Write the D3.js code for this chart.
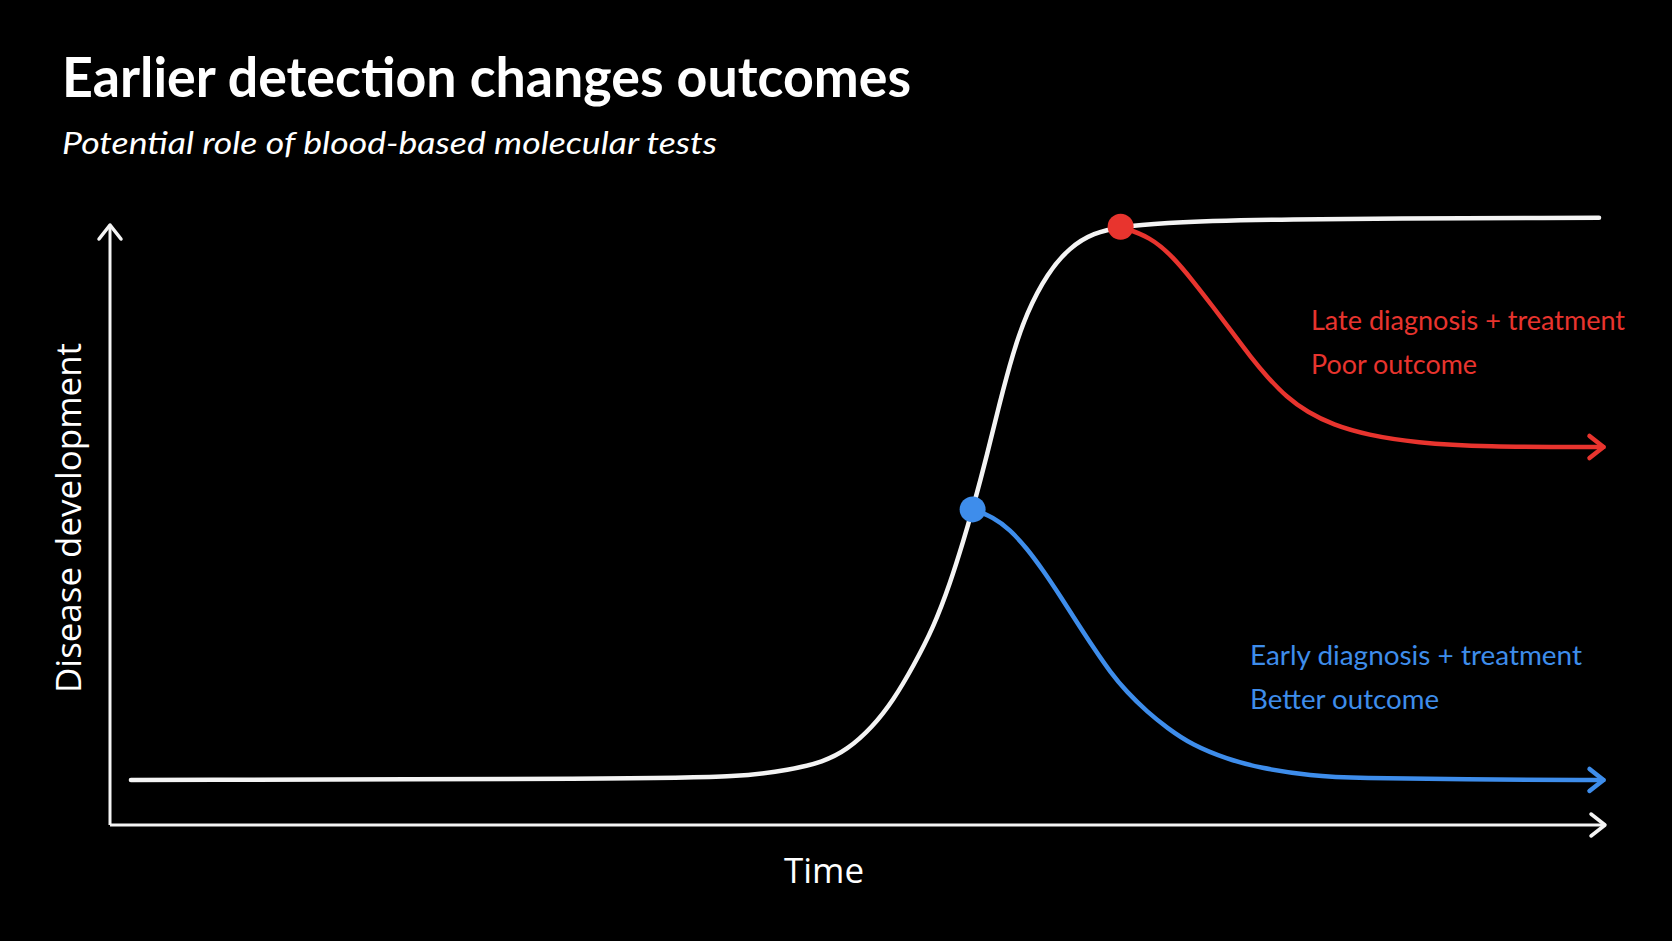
<!DOCTYPE html>
<html>
<head>
<meta charset="utf-8">
<script src="https://cdn.jsdelivr.net/npm/d3@7"></script>
<style>
  html, body { margin: 0; padding: 0; background: #000; }
  svg { display: block; }
</style>
</head>
<body>
<div id="chart"></div>
<script>
// time (0-100) vs disease level (0-100)
var untreatedCurve = [
  [1.4, 7.5], [35.5, 7.7], [42.1, 8.0], [45.5, 9.2], [47.7, 10.5], [49.3, 12.5],
  [51.0, 16.3], [52.4, 20.8], [53.7, 26.3], [55.1, 33.0], [56.2, 40.3], [57.1, 47.5],
  [57.7, 52.6], [58.7, 62.0], [59.5, 70.3], [60.4, 78.7], [61.3, 85.3], [62.7, 92.0],
  [64.2, 96.3], [65.8, 98.7], [67.6, 99.7], [70.2, 100.3], [76.3, 101.0], [99.6, 101.2]
];
var earlyCurve = [
  [57.7, 52.6], [59.1, 51.3], [60.2, 49.2], [61.3, 46.2], [62.4, 42.5], [63.6, 38.0],
  [64.7, 33.7], [65.8, 29.5], [66.9, 25.5], [68.0, 22.2], [69.4, 18.8], [70.7, 16.2],
  [72.4, 13.3], [74.7, 11.0], [76.9, 9.5], [80.3, 8.2], [83.6, 7.8], [90.3, 7.6], [99.9, 7.5]
];
var lateCurve = [
  [67.6, 99.7], [69.6, 98.0], [71.1, 94.7], [72.4, 90.8], [73.8, 86.3], [75.1, 82.0],
  [76.3, 78.0], [77.4, 74.7], [78.7, 71.3], [80.1, 68.8], [81.8, 66.7], [84.1, 65.0],
  [87.4, 63.7], [91.8, 63.0], [99.9, 63.0]
];
var earlyPoint = [57.7, 52.6];
var latePoint = [67.6, 99.7];

var titleText = "Earlier detection changes outcomes";
var subtitleText = "Potential role of blood-based molecular tests";
var xLabel = "Time";
var yLabel = "Disease development";
var lateLabels = ["Late diagnosis + treatment", "Poor outcome"];
var earlyLabels = ["Early diagnosis + treatment", "Better outcome"];

var width = 1672, height = 941;
var white = "#f4f4f4", red = "#e8342e", blue = "#3e8deb";

var svg = d3.select("#chart").append("svg")
    .attr("width", width)
    .attr("height", height)
    .style("background", "#000");

var x = d3.scaleLinear().domain([0, 100]).range([110, 1605]);
var y = d3.scaleLinear().domain([0, 100]).range([825, 225]);

var defs = svg.append("defs");
function arrow(id, color, sw) {
  defs.append("marker")
      .attr("id", id)
      .attr("markerUnits", "userSpaceOnUse")
      .attr("viewBox", "-20 -16 26 32")
      .attr("markerWidth", 26)
      .attr("markerHeight", 32)
      .attr("refX", 0)
      .attr("refY", 0)
      .attr("orient", "auto")
    .append("path")
      .attr("d", "M-14,-11L0,0L-14,11")
      .attr("fill", "none")
      .attr("stroke", color)
      .attr("stroke-width", sw)
      .attr("stroke-linecap", "round")
      .attr("stroke-linejoin", "round");
}
arrow("arrWhite", white, 3.5);
arrow("arrRed", red, 4.5);
arrow("arrBlue", blue, 4.5);

// axes (no ticks, just the arrows)
var axisLine = d3.line().x(function(d) { return x(d[0]); }).y(function(d) { return y(d[1]); });
svg.append("path")
    .attr("d", axisLine([[0, 0], [0, 100]]))
    .attr("stroke", white).attr("stroke-width", 3).attr("fill", "none")
    .attr("marker-end", "url(#arrWhite)");
svg.append("path")
    .attr("d", axisLine([[0, 0], [100, 0]]))
    .attr("stroke", white).attr("stroke-width", 3).attr("fill", "none")
    .attr("marker-end", "url(#arrWhite)");

// basis spline smooths out the reading noise
var line = d3.line()
    .x(function(d) { return x(d[0]); })
    .y(function(d) { return y(d[1]); })
    .curve(d3.curveBasis);

svg.append("path")
    .attr("d", line(earlyCurve))
    .attr("fill", "none").attr("stroke", blue).attr("stroke-width", 4.5)
    .attr("stroke-linecap", "round")
    .attr("marker-end", "url(#arrBlue)");
svg.append("path")
    .attr("d", line(lateCurve))
    .attr("fill", "none").attr("stroke", red).attr("stroke-width", 4.5)
    .attr("stroke-linecap", "round")
    .attr("marker-end", "url(#arrRed)");
svg.append("path")
    .attr("d", line(untreatedCurve))
    .attr("fill", "none").attr("stroke", white).attr("stroke-width", 4.5)
    .attr("stroke-linecap", "round");

svg.append("circle").attr("cx", x(earlyPoint[0])).attr("cy", y(earlyPoint[1])).attr("r", 13).attr("fill", blue);
svg.append("circle").attr("cx", x(latePoint[0])).attr("cy", y(latePoint[1])).attr("r", 13).attr("fill", red);

// titles
svg.append("text")
    .attr("x", 62).attr("y", 97)
    .attr("font-family", "Lato, sans-serif").attr("font-weight", 700).attr("font-size", 55)
    .attr("fill", "#fff")
    .attr("textLength", 849).attr("lengthAdjust", "spacingAndGlyphs")
    .text(titleText);
svg.append("text")
    .attr("x", 62).attr("y", 154)
    .attr("font-family", "Lato, sans-serif").attr("font-style", "italic").attr("font-size", 31)
    .attr("fill", "#fff")
    .attr("textLength", 655).attr("lengthAdjust", "spacingAndGlyphs")
    .text(subtitleText);

// axis labels
svg.append("text")
    .attr("transform", "translate(81,518) rotate(-90)")
    .attr("text-anchor", "middle")
    .attr("font-family", "'Open Sans', sans-serif").attr("font-size", 34)
    .attr("fill", "#fff")
    .attr("textLength", 350).attr("lengthAdjust", "spacingAndGlyphs")
    .text(yLabel);
svg.append("text")
    .attr("x", 824).attr("y", 883)
    .attr("text-anchor", "middle")
    .attr("font-family", "'Open Sans', sans-serif").attr("font-size", 34)
    .attr("fill", "#fff")
    .attr("textLength", 80).attr("lengthAdjust", "spacingAndGlyphs")
    .text(xLabel);

// series labels
var lateLens = [314, 166], earlyLens = [332, 189];
svg.selectAll(".lateLab").data(lateLabels).enter().append("text")
    .attr("x", 1311).attr("y", function(d, i) { return 330 + i * 44; })
    .attr("font-family", "Lato, sans-serif").attr("font-size", 26)
    .attr("fill", red)
    .attr("textLength", function(d, i) { return lateLens[i]; }).attr("lengthAdjust", "spacingAndGlyphs")
    .text(function(d) { return d; });
svg.selectAll(".earlyLab").data(earlyLabels).enter().append("text")
    .attr("x", 1250).attr("y", function(d, i) { return 665 + i * 44; })
    .attr("font-family", "Lato, sans-serif").attr("font-size", 26)
    .attr("fill", blue)
    .attr("textLength", function(d, i) { return earlyLens[i]; }).attr("lengthAdjust", "spacingAndGlyphs")
    .text(function(d) { return d; });
</script>
</body>
</html>
